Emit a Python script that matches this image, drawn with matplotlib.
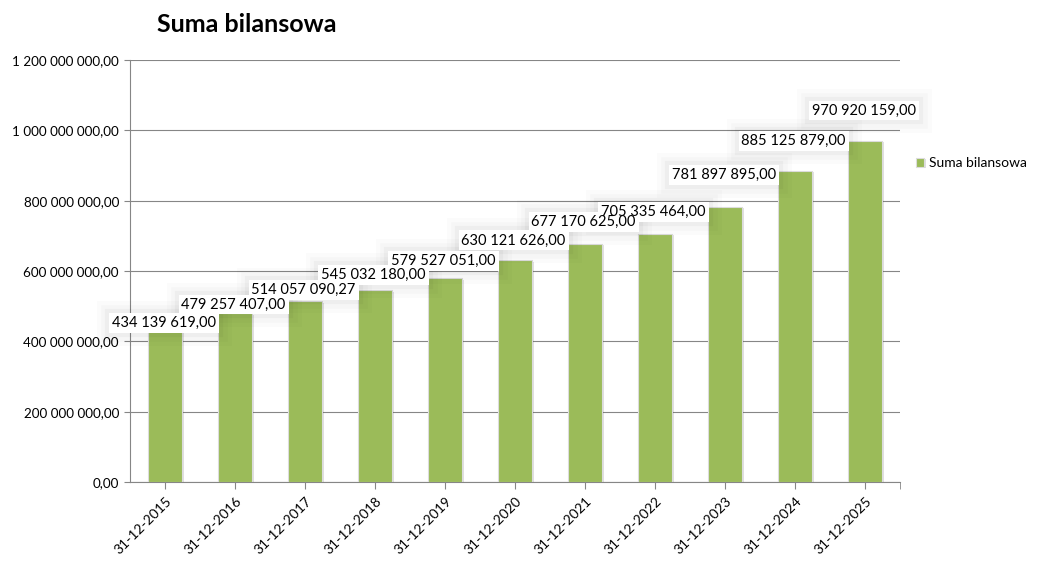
import matplotlib
matplotlib.use("Agg")
import matplotlib.pyplot as plt
import matplotlib.patheffects as pe
from matplotlib.ticker import FuncFormatter, FixedLocator

categories = ["31-12-2015", "31-12-2016", "31-12-2017", "31-12-2018", "31-12-2019",
              "31-12-2020", "31-12-2021", "31-12-2022", "31-12-2023", "31-12-2024",
              "31-12-2025"]
values = [434139619.00, 479257407.00, 514057090.27, 545032180.00, 579527051.00,
          630121626.00, 677170625.00, 705335464.00, 781897895.00, 885125879.00,
          970920159.00]
value_labels = ["434 139 619,00", "479 257 407,00", "514 057 090,27", "545 032 180,00",
                "579 527 051,00", "630 121 626,00", "677 170 625,00", "705 335 464,00",
                "781 897 895,00", "885 125 879,00", "970 920 159,00"]
series_name = "Suma bilansowa"
title = "Suma bilansowa"

# label vertical offsets above bar tops (pixels) as placed in the original
label_offsets = [6, 9, 11, 15, 17, 20, 22, 22, 32, 30, 30]

plt.rcParams['font.family'] = ['Lato', 'DejaVu Sans']

W, H = 1054, 563
fig = plt.figure(figsize=(W / 100, H / 100), dpi=100)
ax = fig.add_axes([130 / W, 1 - 482 / H, 770 / W, 422 / H])

green = "#9BBB59"
x = list(range(len(categories)))
bars = ax.bar(x, values, width=0.49, color=green, edgecolor="#dcdcdc", linewidth=0.8,
              zorder=3, label=series_name)
for b in bars:
    b.set_path_effects([pe.SimplePatchShadow(offset=(1.5, -1), shadow_rgbFace="#000000",
                                             alpha=0.12), pe.Normal()])

ax.set_xlim(-0.5, len(categories) - 0.5)
ax.set_ylim(0, 1.2e9)
ax.set_yticks([i * 2e8 for i in range(7)])

def fmt(v, pos):
    s = f"{int(round(v)):,}".replace(",", " ")
    return s + ",00"

ax.yaxis.set_major_formatter(FuncFormatter(fmt))
ax.grid(axis='y', color="#868686", linewidth=0.8, zorder=0)
ax.set_axisbelow(True)

for side in ["top", "right"]:
    ax.spines[side].set_visible(False)
for side in ["left", "bottom"]:
    ax.spines[side].set_color("#868686")
    ax.spines[side].set_linewidth(0.8)

ax.set_xticks(x)
ax.set_xticklabels(categories, rotation=45, ha="right", rotation_mode="anchor", fontsize=10)
ax.xaxis.set_minor_locator(FixedLocator([len(categories) - 0.5]))
ax.tick_params(axis='x', which='both', length=5, color="#868686", pad=4)
ax.tick_params(axis='y', length=4, color="#868686", labelsize=9.7, pad=4)

glow = [pe.Stroke(linewidth=18, foreground="#000000", alpha=0.015),
        pe.Stroke(linewidth=12, foreground="#000000", alpha=0.02),
        pe.Stroke(linewidth=6, foreground="#000000", alpha=0.03)]

for xi, v, lab, off in zip(x, values, value_labels, label_offsets):
    kw = dict(xy=(xi, v), xytext=(-1, off * 0.72), textcoords="offset points",
              ha="center", va="center", fontsize=10.5)
    # soft shadow layer
    g = ax.annotate(lab, color="none", zorder=4,
                    bbox=dict(boxstyle="square,pad=0.2", fc="none", ec="none"), **kw)
    g.get_bbox_patch().set_path_effects(glow)
    # white box layer
    ax.annotate(lab, color="none", zorder=4.5,
                bbox=dict(boxstyle="square,pad=0.2", fc="white", ec="none"), **kw)
    # text layer on top of all boxes
    ax.annotate(lab, color="black", zorder=6, **kw)

fig.text(157 / W, 1 - 25 / H, title, fontsize=18, fontweight="bold", ha="left", va="center")

leg = fig.legend(handles=[bars], labels=[series_name], loc="center left",
                 bbox_to_anchor=(903 / W, 1 - 163 / H), frameon=False, fontsize=10,
                 handlelength=0.6, handleheight=0.6, handletextpad=0.4)

fig.savefig("out.png", dpi=100)
